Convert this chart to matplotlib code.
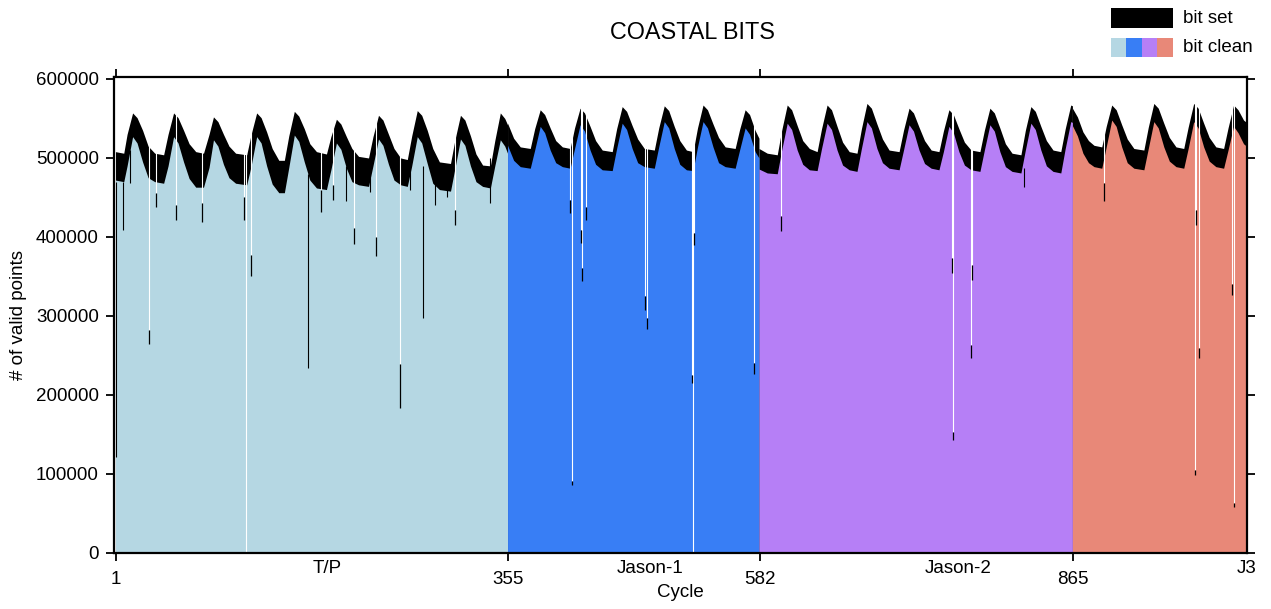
import matplotlib
matplotlib.use("Agg")
import matplotlib.pyplot as plt
from matplotlib.patches import Rectangle

plt.rcParams['font.family'] = ['Liberation Sans', 'DejaVu Sans']

# mission segments: name, first cycle, colour
missions = ["T/P", "Jason-1", "Jason-2", "J3"]
mission_start = [1, 355, 582, 865]
mission_label_pos = [192, 483, 761, 1022]
colors = ["#b5d7e3", "#387ef5", "#b67ff6", "#e88878"]

# envelope of the curves: top of "bit set" and top of "bit clean"
tp_cycle = [1, 8, 11, 16, 20, 25, 30, 36,
            44, 48, 53, 57, 62, 67, 73,
            80, 85, 89, 93, 98, 103, 109,
            119, 123, 128, 132, 137, 142, 148,
            153, 157, 162, 166, 171, 176, 182,
            191, 195, 200, 204, 209, 214, 220,
            229, 233, 238, 242, 247, 252, 258,
            264, 268, 273, 277, 282, 287, 293,
            303, 307, 312, 316, 321, 326, 332,
            339, 343, 348, 352, 354]
tp_set = [508000, 506000, 530000, 557000, 551000, 535000, 515000, 506000,
          504000, 530000, 557000, 551000, 535000, 518000, 508000,
          506000, 530000, 552000, 546000, 530000, 515000, 506000,
          504000, 530000, 557000, 551000, 533000, 512000, 497000,
          497000, 528000, 559000, 553000, 537000, 518000, 508000,
          505000, 527000, 549000, 543000, 527000, 512000, 502000,
          500000, 527000, 554000, 548000, 530000, 512000, 500000,
          498000, 528000, 560000, 554000, 535000, 512000, 495000,
          493000, 523000, 554000, 548000, 528000, 505000, 491000,
          490000, 522000, 557000, 550000, 542000]
tp_clean = [472000, 470000, 490000, 527000, 519000, 495000, 475000, 470000,
            468000, 490000, 527000, 519000, 495000, 474000, 463000,
            463000, 488000, 523000, 515000, 492000, 475000, 468000,
            466000, 490000, 527000, 519000, 490000, 467000, 456000,
            456000, 488000, 529000, 521000, 495000, 472000, 462000,
            460000, 485000, 519000, 511000, 487000, 470000, 466000,
            464000, 490000, 524000, 516000, 492000, 472000, 466000,
            464000, 490000, 527000, 519000, 493000, 468000, 460000,
            458000, 487000, 524000, 516000, 490000, 470000, 464000,
            462000, 490000, 523000, 515000, 506000]

j1_cycle = [355, 360, 366, 375,
            379, 384, 388, 393, 398, 404, 411,
            415, 420, 424, 429, 434, 440, 449,
            453, 458, 462, 467, 472, 478, 487,
            491, 496, 500, 505, 510, 516, 522,
            526, 531, 535, 540, 545, 551, 560,
            564, 569, 573, 578, 581]
j1_set = [544000, 525000, 514000, 512000,
          537000, 561000, 555000, 538000, 522000, 514000, 512000,
          538000, 563000, 557000, 540000, 522000, 510000, 508000,
          537000, 565000, 559000, 541000, 524000, 512000, 510000,
          538000, 566000, 560000, 540000, 522000, 510000, 508000,
          538000, 567000, 561000, 543000, 526000, 514000, 512000,
          536000, 561000, 555000, 535000, 525000]
j1_clean = [516000, 497000, 489000, 487000,
            510000, 540000, 532000, 510000, 494000, 489000, 487000,
            512000, 542000, 534000, 510000, 492000, 485000, 484000,
            512000, 544000, 536000, 512000, 494000, 489000, 487000,
            514000, 546000, 538000, 512000, 492000, 485000, 484000,
            514000, 546000, 538000, 514000, 494000, 489000, 487000,
            510000, 538000, 530000, 508000, 500000]

j2_cycle = [582, 589, 598,
            602, 607, 611, 616, 621, 627, 634,
            638, 643, 647, 652, 657, 663, 670,
            674, 679, 683, 688, 693, 699, 708,
            712, 717, 721, 726, 731, 737, 744,
            748, 753, 757, 762, 767, 773, 781,
            785, 790, 794, 799, 804, 810, 818,
            822, 827, 831, 836, 841, 847, 854,
            858, 863, 864]
j2_set = [512000, 506000, 504000,
          535000, 567000, 561000, 541000, 522000, 512000, 508000,
          537000, 567000, 561000, 540000, 520000, 508000, 506000,
          537000, 569000, 563000, 543000, 524000, 510000, 508000,
          535000, 563000, 557000, 539000, 522000, 510000, 508000,
          534000, 561000, 555000, 537000, 520000, 510000, 508000,
          535000, 563000, 557000, 538000, 518000, 506000, 504000,
          535000, 565000, 559000, 540000, 522000, 510000, 508000,
          537000, 567000, 566000]
j2_clean = [486000, 481000, 480000,
            510000, 544000, 536000, 510000, 492000, 485000, 484000,
            512000, 544000, 536000, 510000, 491000, 485000, 483000,
            512000, 546000, 538000, 512000, 494000, 487000, 485000,
            510000, 542000, 534000, 510000, 493000, 487000, 485000,
            508000, 540000, 532000, 508000, 491000, 485000, 483000,
            510000, 542000, 534000, 508000, 489000, 483000, 481000,
            510000, 544000, 536000, 510000, 490000, 483000, 481000,
            512000, 546000, 545000]

j3_cycle = [865, 869, 874, 879, 884, 891,
            895, 900, 904, 909, 914, 920, 929,
            933, 938, 942, 947, 952, 958, 965,
            969, 974, 978, 983, 988, 994, 1001,
            1005, 1010, 1014, 1019, 1022]
j3_set = [563000, 552000, 533000, 522000, 516000, 514000,
          540000, 567000, 561000, 542000, 524000, 512000, 510000,
          539000, 569000, 563000, 544000, 526000, 514000, 512000,
          539000, 569000, 563000, 544000, 526000, 514000, 512000,
          538000, 567000, 561000, 548000, 544000]
j3_clean = [541000, 528000, 506000, 494000, 489000, 487000,
            514000, 548000, 540000, 514000, 494000, 487000, 485000,
            512000, 546000, 538000, 514000, 496000, 489000, 487000,
            512000, 546000, 538000, 514000, 496000, 489000, 487000,
            510000, 540000, 532000, 518000, 514000]

# cycles with a low count: cycle, bit set value, bit clean value
gap_cycle = [31, 37, 55, 79, 117, 118, 123, 186, 197, 216, 236, 257, 307,
             411, 413, 421, 422, 425, 479, 480, 521, 522, 523, 577,
             601, 756, 757, 773, 774,
             893, 975, 976, 979, 1009, 1010]
gap_set = [282000, 456000, 440000, 443000, 451000, 0, 377000, 460000, 466000, 411000, 400000, 239500, 434000,
           447000, 91000, 409000, 361000, 438000, 325000, 297000, 225000, 0, 405000, 240000,
           426000, 373000, 153000, 263000, 365000,
           468000, 105000, 434000, 260000, 340000, 63000]
gap_clean = [265000, 438000, 421000, 419000, 421000, 0, 351000, 432000, 447000, 391000, 376000, 183500, 415000,
             430000, 86000, 392000, 344000, 421000, 307000, 283000, 215000, 0, 390000, 227000,
             407000, 354000, 143000, 247000, 345000,
             445000, 99000, 415000, 247000, 326000, 58000]

# cycles where only bit clean drops: cycle, clean value, bottom of black band there
dip_cycle = [1, 7, 14, 174, 209, 230, 266, 278, 289, 300, 339, 821]
dip_clean = [121000, 409000, 468000, 234500, 445000, 457000, 460000, 297500, 440000, 451000, 443000, 463000]
dip_top = [470000, 470000, 510000, 480000, 490000, 480000, 500000, 490000, 470000, 465000, 500000, 487000]

fig = plt.figure(figsize=(12.71, 6.09), dpi=100)
ax = fig.add_axes([0.0897, 0.092, 0.8914, 0.7816])

segments = [(tp_cycle, tp_set, tp_clean), (j1_cycle, j1_set, j1_clean),
            (j2_cycle, j2_set, j2_clean), (j3_cycle, j3_set, j3_clean)]
for (cyc, s, c), col in zip(segments, colors):
    xs = [cyc[0] - 0.5] + cyc[1:-1] + [cyc[-1] + 0.5]
    ax.fill_between(xs, 0, s, color="black", lw=0, zorder=1)
    ax.fill_between(xs, 0, c, color=col, lw=0, zorder=2)

ax.vlines(gap_cycle, gap_set, 610000, color="white", lw=0.8, zorder=3)
ax.vlines(gap_cycle, gap_clean, gap_set, color="black", lw=0.9, zorder=4)
ax.vlines(dip_cycle, dip_clean, dip_top, color="black", lw=0.8, zorder=4)

ax.set_xlim(-0.8, 1022.1)
ax.set_ylim(0, 602500)

ax.set_xticks(mission_start)
ax.set_xticklabels([str(v) for v in mission_start])
ax.set_xticks(mission_label_pos, minor=True)
ax.set_xticklabels(missions, minor=True)
ax.set_yticks(range(0, 600001, 100000))
ax.set_yticklabels([str(v) for v in range(0, 600001, 100000)])

ax.tick_params(axis="both", which="major", direction="out", length=6, width=1.3,
               labelsize=13.5, top=True, right=True, pad=5)
ax.tick_params(axis="x", which="major", pad=7)
ax.tick_params(axis="x", which="minor", length=0, labelsize=13.5, pad=5)
for sp in ax.spines.values():
    sp.set_linewidth(1.6)
    sp.set_zorder(6)

ax.set_xlabel("Cycle", fontsize=13.5, labelpad=-3)
ax.set_ylabel("# of valid points", fontsize=13.5, labelpad=6)

fig.text(0.545, 0.946, "COASTAL BITS", ha="center", va="center", fontsize=16.8)

# legend
fig.add_artist(Rectangle((0.8741, 0.954), 0.0488, 0.0328, transform=fig.transFigure,
                         color="black", lw=0))
for i, col in enumerate(colors):
    fig.add_artist(Rectangle((0.8741 + i * 0.0122, 0.9064), 0.0122, 0.0312,
                             transform=fig.transFigure, color=col, lw=0))
fig.text(0.9308, 0.9704, "bit set", ha="left", va="center", fontsize=13.5)
fig.text(0.9308, 0.9228, "bit clean", ha="left", va="center", fontsize=13.5)

fig.savefig("out.png", dpi=100)
